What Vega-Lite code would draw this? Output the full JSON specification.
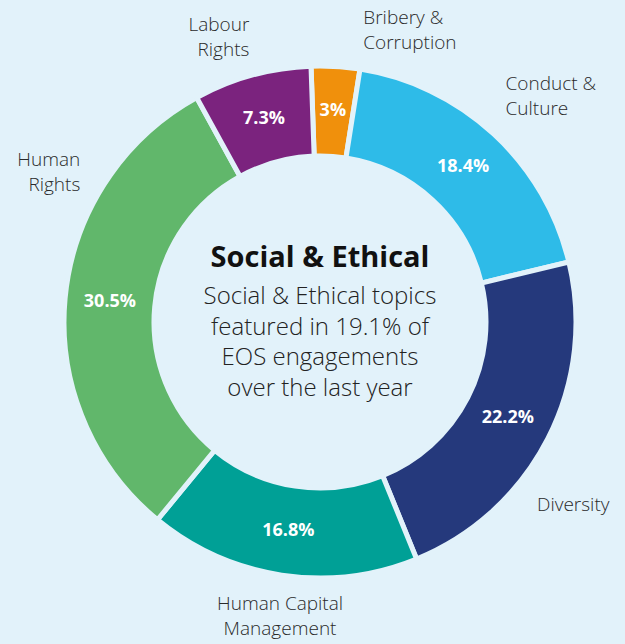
{
  "$schema": "https://vega.github.io/schema/vega-lite/v6.json",
  "width": 625,
  "height": 644,
  "autosize": {"type": "fit", "contains": "padding"},
  "padding": {"left": 15, "right": 0, "top": 0, "bottom": 0},
  "background": "#e2f2fa",
  "config": {"view": {"stroke": null}, "font": "Open Sans"},
  "datasets": {
    "topics": [
      {"topic": "Bribery & Corruption", "label": "Bribery &\nCorruption", "share": 0.03},
      {"topic": "Conduct & Culture", "label": "Conduct &\nCulture", "share": 0.184},
      {"topic": "Diversity", "label": "Diversity", "share": 0.222},
      {"topic": "Human Capital Management", "label": "Human Capital\nManagement", "share": 0.168},
      {"topic": "Human Rights", "label": "Human\nRights", "share": 0.305},
      {"topic": "Labour Rights", "label": "Labour\nRights", "share": 0.073}
    ],
    "centre": [
      {"title": "Social & Ethical", "body": "Social & Ethical topics\nfeatured in 19.1% of\nEOS engagements\nover the last year"}
    ]
  },
  "layer": [
    {
      "data": {"name": "topics"},
      "mark": {"type": "arc", "innerRadius": 166, "outerRadius": 256, "stroke": "#e2f2fa", "strokeWidth": 5},
      "encoding": {
        "theta": {"field": "share", "type": "quantitative", "stack": true, "scale": {"range": [-0.035, 6.248]}},
        "order": {"field": "topic", "type": "nominal", "sort": "ascending"},
        "color": {
          "field": "topic", "type": "nominal", "legend": null,
          "scale": {
            "domain": ["Bribery & Corruption", "Conduct & Culture", "Diversity", "Human Capital Management", "Human Rights", "Labour Rights"],
            "range": ["#f0900c", "#2ebbe8", "#25397c", "#00a096", "#61b76b", "#7b237e"]
          }
        }
      }
    },
    {
      "data": {"name": "topics"},
      "mark": {"type": "text", "radius": 211, "fill": "white", "fontWeight": "bold", "fontSize": 18, "baseline": "middle"},
      "encoding": {
        "theta": {"field": "share", "type": "quantitative", "stack": true},
        "order": {"field": "topic", "type": "nominal", "sort": "ascending"},
        "text": {"field": "share", "type": "quantitative", "format": ".1~%"}
      }
    },
    {
      "data": {"name": "topics"},
      "mark": {
        "type": "text", "radius": 300, "fill": "#2a2a2a", "fontSize": 19, "fontWeight": 300, "baseline": "middle", "lineBreak": "\n", "lineHeight": 25,
        "align": {"expr": "datum.topic === 'Labour Rights' || datum.topic === 'Human Rights' ? 'right' : (datum.topic === 'Human Capital Management' ? 'center' : 'left')"},
        "dx": {"expr": "datum.topic === 'Bribery & Corruption' ? 25 : datum.topic === 'Conduct & Culture' ? -18 : datum.topic === 'Diversity' ? -50 : datum.topic === 'Human Capital Management' ? 5 : datum.topic === 'Human Rights' ? 59 : 9"},
        "dy": {"expr": "datum.topic === 'Bribery & Corruption' ? -5 : datum.topic === 'Conduct & Culture' ? -18 : datum.topic === 'Diversity' ? 46 : datum.topic === 'Human Capital Management' ? -15 : datum.topic === 'Human Rights' ? -134 : -8"}
      },
      "encoding": {
        "theta": {"field": "share", "type": "quantitative", "stack": true},
        "order": {"field": "topic", "type": "nominal", "sort": "ascending"},
        "text": {"field": "label", "type": "nominal"}
      }
    },
    {
      "data": {"name": "centre"},
      "mark": {"type": "text", "fontSize": 29, "fontWeight": "bold", "fill": "#111111", "baseline": "middle", "dy": -64},
      "encoding": {"text": {"field": "title", "type": "nominal"}}
    },
    {
      "data": {"name": "centre"},
      "mark": {"type": "text", "fontSize": 24, "fontWeight": 300, "fill": "#222222", "baseline": "middle", "lineBreak": "\n", "lineHeight": 30.7, "dy": -25},
      "encoding": {"text": {"field": "body", "type": "nominal"}}
    }
  ]
}
